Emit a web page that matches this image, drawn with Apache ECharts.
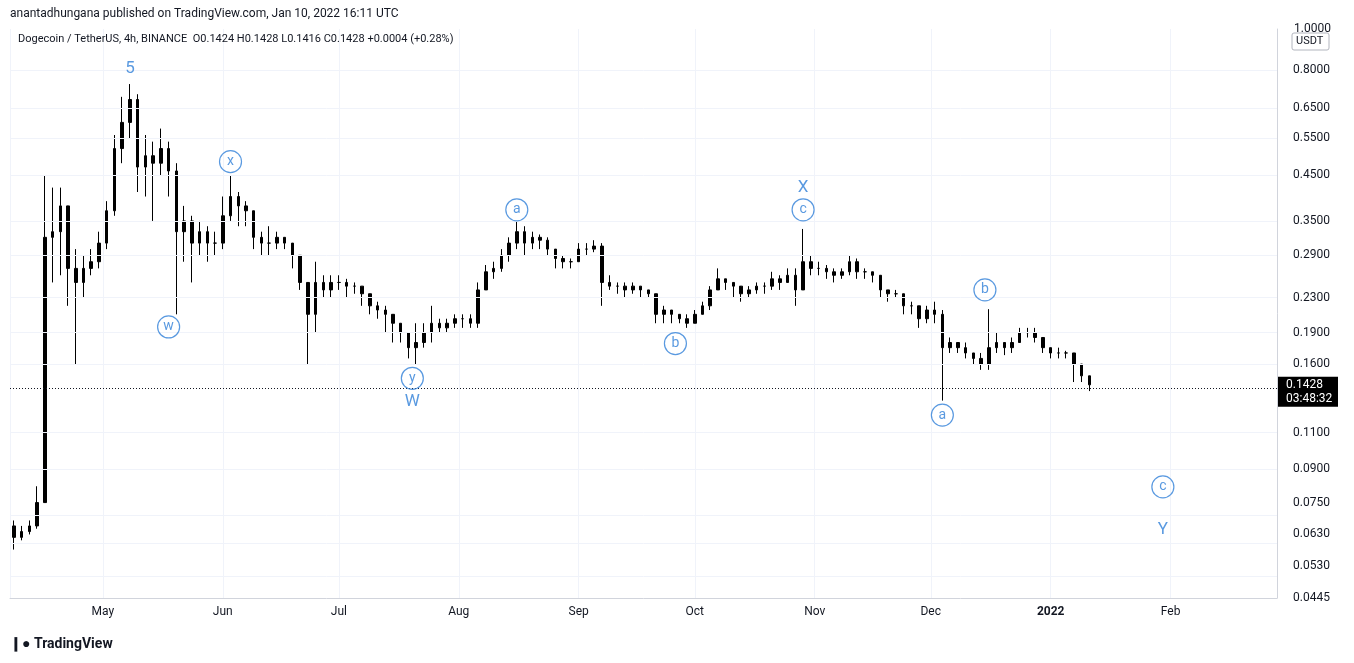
<!DOCTYPE html>
<html>
<head>
<meta charset="utf-8">
<script src="https://cdn.jsdelivr.net/npm/echarts@6/dist/echarts.min.js"></script>
<style>
  html, body { margin: 0; padding: 0; background: #fff; }
  #main { width: 1354px; height: 663px; }
</style>
</head>
<body>
<div id="main"></div>
<script>
// 2-day candles starting 2021-04-07
var startDate = '2021-04-07';
var firstOpen = 0.066;
var closes = [.062,.064,.066,.075,.32,.33,.38,.27,.25,.27,.28,.31,
  .37,.52,.60,.68,.47,.50,.48,.52,.46,.33,.35,.31,.33,.31,.31,.36,
  .40,.38,.37,.32,.31,.31,.32,.31,.29,.25,.21,.25,.24,.25,.25,
  .245,.245,.235,.22,.215,.21,.20,.19,.175,.18,.19,.20,.195,.20,.205,
  .205,.20,.24,.265,.27,.29,.31,.33,.31,.32,.315,.30,.285,.28,.28,.30,
  .30,.305,.25,.245,.245,.24,.245,.24,.235,.21,.215,.21,.205,.20,.21,
  .22,.24,.255,.25,.245,.235,.24,.245,.245,.255,.25,.26,.24,.28,.27,
  .27,.265,.26,.265,.28,.265,.265,.26,.24,.235,.235,.22,.22,.205,.215,
  .21,.175,.18,.175,.17,.165,.16,.175,.18,.175,.18,.19,.19,.185,.175,.17,
  .17,.17,.16,.15,.1428];
var lows = [.058,.061,.063,.065,.075,.25,.26,.22,.16,.23,.26,.27,
  .30,.36,.48,.55,.41,.40,.35,.45,.40,.21,.28,.25,.29,.28,.29,.30,
  .35,.34,.34,.30,.29,.29,.30,.30,.27,.24,.16,.19,.23,.23,.24,
  .23,.235,.22,.21,.205,.19,.18,.18,.165,.16,.175,.18,.19,.19,.195,
  .195,.195,.195,.24,.255,.265,.28,.30,.29,.30,.30,.29,.27,.27,.27,.28,
  .29,.295,.22,.24,.235,.23,.235,.23,.23,.20,.20,.20,.20,.195,.20,
  .21,.215,.24,.24,.23,.225,.23,.235,.235,.24,.24,.25,.22,.24,.26,
  .26,.255,.25,.255,.26,.255,.255,.25,.23,.225,.23,.21,.21,.195,.20,
  .20,.131,.17,.17,.165,.16,.155,.155,.17,.168,.17,.18,.185,.18,.17,.165,
  .165,.165,.145,.145,.138];
var highs = [.068,.066,.068,.082,.45,.42,.42,.36,.30,.29,.30,.33,
  .39,.56,.69,.74,.70,.56,.54,.58,.54,.48,.38,.36,.35,.34,.33,.40,
  .45,.41,.39,.37,.33,.34,.33,.32,.31,.29,.25,.28,.26,.26,.26,
  .255,.25,.245,.235,.225,.22,.21,.20,.19,.20,.20,.22,.205,.205,.21,
  .21,.21,.25,.275,.28,.30,.32,.35,.34,.33,.325,.32,.30,.29,.285,.31,
  .31,.315,.31,.26,.25,.25,.25,.245,.24,.235,.22,.215,.21,.21,.215,
  .225,.245,.27,.255,.25,.24,.245,.25,.25,.265,.26,.27,.27,.335,.29,
  .28,.275,.27,.27,.29,.285,.27,.265,.26,.24,.24,.235,.225,.22,.22,
  .225,.215,.185,.18,.18,.17,.17,.216,.19,.18,.185,.195,.195,.195,.18,.175,
  .175,.172,.17,.155,.15];

var yTicks = [0.0445, 0.0530, 0.0630, 0.0750, 0.0900, 0.1100, 0.1600, 0.1900,
  0.2300, 0.2900, 0.3500, 0.4500, 0.5500, 0.6500, 0.8000];
var lastPrice = 0.1428;

// wave labels: date, price, text, circled?
var waveDates  = ['2021-05-08','2021-05-18','2021-06-03','2021-07-20','2021-07-20','2021-08-16','2021-09-26','2021-10-29','2021-10-29','2021-12-04','2021-12-15','2022-01-30','2022-01-30'];
var wavePrices = [0.804, 0.196, 0.484, 0.148, 0.130, 0.372, 0.179, 0.419, 0.372, 0.121, 0.240, 0.0817, 0.0646];
var waveTexts  = ['5','w','x','y','W','a','b','X','c','a','b','c','Y'];
var waveCircle = [false,true,true,true,false,true,true,false,true,true,true,true,false];

var DAY = 86400000;
var t0 = Date.parse(startDate + 'T00:00:00Z');
var candles = closes.map(function (c, i) {
  var o = i === 0 ? firstOpen : closes[i - 1];
  return [t0 + (i * 2 + 1) * DAY, o, c, lows[i], highs[i]];
});

var blue = '#2f7fd8';
var waveData = waveTexts.map(function (t, i) {
  return {
    value: [Date.parse(waveDates[i] + 'T00:00:00Z'), wavePrices[i]],
    itemStyle: { borderColor: waveCircle[i] ? blue : 'rgba(0,0,0,0)' },
    label: { formatter: t, fontSize: waveCircle[i] ? 14 : 17 }
  };
});

var myChart = echarts.init(document.getElementById('main'));
var option = {
  animation: false,
  grid: { left: 10, right: 77, top: 29, bottom: 65 },
  xAxis: {
    type: 'time',
    min: Date.UTC(2021, 3, 7),
    max: Date.UTC(2022, 1, 28, 12),
    axisLine: { lineStyle: { color: '#d1d4dc' } },
    axisTick: { show: false },
    splitLine: { show: true, lineStyle: { color: '#f0f3fa' } },
    axisLabel: {
      color: '#131722', fontSize: 12, fontFamily: 'Roboto', margin: 8,
      formatter: function (v) {
        var d = new Date(v);
        var m = ['Jan','Feb','Mar','Apr','May','Jun','Jul','Aug','Sep','Oct','Nov','Dec'][d.getUTCMonth()];
        return d.getUTCMonth() === 0 ? '{b|' + d.getUTCFullYear() + '}' : m;
      },
      rich: { b: { fontWeight: 'bold', fontSize: 12, color: '#131722' } }
    },
    minInterval: 28 * DAY
  },
  yAxis: {
    type: 'log',
    position: 'right',
    min: 0.0445,
    max: 1.0,
    axisLine: { show: true, lineStyle: { color: '#d1d4dc' } },
    axisTick: { show: false },
    splitLine: { show: false },
    axisLabel: {
      color: '#131722', fontSize: 12, fontFamily: 'Roboto', margin: 16,
      customValues: yTicks,
      formatter: function (v) { return v.toFixed(4); }
    }
  },
  series: [
    {
      type: 'candlestick',
      data: candles.map(function (c) { return [c[0], c[1], c[2], c[3], c[4]]; }),
      encode: { x: 0, y: [1, 2, 3, 4] },
      barMaxWidth: 3,
      itemStyle: { color: '#000', color0: '#000', borderColor: '#000', borderColor0: '#000', borderWidth: 1 },
      markLine: {
        silent: true, symbol: 'none', animation: false,
        label: { show: false },
        data: yTicks.map(function (v) {
          return { yAxis: v, lineStyle: { color: '#f0f3fa', type: 'solid', width: 1 } };
        }).concat([{ yAxis: lastPrice, lineStyle: { color: '#131722', type: [1, 2], width: 1 } }])
      }
    },
    {
      type: 'scatter',
      data: waveData,
      symbol: 'circle',
      symbolSize: 22,
      itemStyle: { color: 'rgba(255,255,255,0)', borderColor: blue, borderWidth: 1.2 },
      label: { show: true, position: 'inside', color: blue, fontFamily: 'Roboto' },
      z: 5
    }
  ]
};
myChart.setOption(option);

var py = myChart.convertToPixel({ yAxisIndex: 0 }, lastPrice);
myChart.setOption({
  graphic: [
    { type: 'text', left: 10, top: 8, style: { text: 'anantadhungana published on TradingView.com, Jan 10, 2022 16:11 UTC', fill: '#131722', font: '12px Roboto' } },
    { type: 'text', left: 18, top: 34, style: { text: 'Dogecoin / TetherUS, 4h, BINANCE  O0.1424 H0.1428 L0.1416 C0.1428 +0.0004 (+0.28%)', fill: '#131722', font: '11px Roboto' } },
    { type: 'text', left: 1294, top: 23, style: { text: '1.0000', fill: '#131722', font: '12px Roboto' } },
    { type: 'rect', shape: { x: 1292, y: 33, width: 37, height: 17, r: 2 }, style: { fill: '#fff', stroke: '#b2b5be' } },
    { type: 'text', x: 1296, y: 36, style: { text: 'USDT', fill: '#131722', font: '11px Roboto' } },
    { type: 'rect', shape: { x: 1278, y: py - 8, width: 60, height: 30 }, style: { fill: '#000' } },
    { type: 'text', x: 1286, y: py - 6, style: { text: '0.1428', fill: '#fff', font: '12px Roboto' } },
    { type: 'text', x: 1286, y: py + 8, style: { text: '03:48:32', fill: '#fff', font: '12px Roboto' } },
    { type: 'text', left: 10, top: 637, style: { text: '\u2759\u25CF TradingView', fill: '#131722', font: 'bold 14px Roboto' } }
  ]
});
</script>
</body>
</html>
